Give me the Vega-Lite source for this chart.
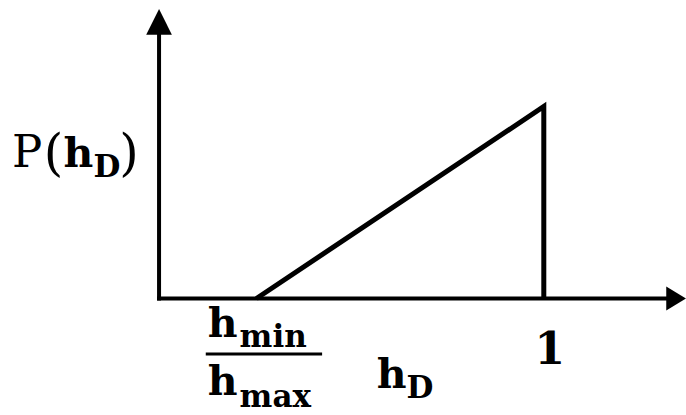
{
  "$schema": "https://vega.github.io/schema/vega-lite/v6.json",
  "width": 686,
  "height": 415,
  "autosize": {"type": "fit", "contains": "padding"},
  "padding": 0,
  "background": "white",
  "config": {"view": {"stroke": null}},
  "datasets": {
    "axes": [
      {"x": 0, "y": 0, "x2": 0, "y2": 1.42},
      {"x": 0, "y": 0, "x2": 1.33, "y2": 0}
    ],
    "curve": [
      {"i": 0, "x": 0.253, "y": 0},
      {"i": 1, "x": 1, "y": 1},
      {"i": 2, "x": 1, "y": 0}
    ],
    "upArrow": [{"x": 0, "y": 1.508}],
    "rightArrow": [{"x": 1.3695, "y": 0}],
    "bar": [{"x": 0.1214, "y": -0.2891, "x2": 0.4238, "y2": -0.2891}],
    "pLetter": [{"x": -0.3824, "y": 0.6849, "t": "P"}],
    "parens": [
      {"x": -0.2997, "y": 0.6693, "t": "("},
      {"x": -0.1034, "y": 0.6693, "t": ")"}
    ],
    "main": [
      {"x": -0.2481, "y": 0.6849, "t": "h"},
      {"x": 0.1266, "y": -0.2005, "t": "h"},
      {"x": 0.1266, "y": -0.5026, "t": "h"},
      {"x": 0.5659, "y": -0.4661, "t": "h"}
    ],
    "sub": [
      {"x": -0.1705, "y": 0.6328, "t": "D"},
      {"x": 0.2093, "y": -0.2526, "t": "min"},
      {"x": 0.2093, "y": -0.5651, "t": "max"},
      {"x": 0.6434, "y": -0.5182, "t": "D"}
    ],
    "one": [{"x": 1.0155, "y": -0.3411, "t": "1"}]
  },
  "encoding": {
    "x": {"field": "x", "type": "quantitative", "scale": {"domain": [-0.4134, 1.3592], "nice": false, "zero": false}, "axis": null},
    "y": {"field": "y", "type": "quantitative", "scale": {"domain": [-0.6068, 1.5547], "nice": false, "zero": false}, "axis": null}
  },
  "layer": [
    {
      "data": {"name": "axes"},
      "mark": {"type": "rule", "color": "black", "strokeWidth": 4, "strokeCap": "square"},
      "encoding": {"x2": {"field": "x2"}, "y2": {"field": "y2"}}
    },
    {
      "data": {"name": "bar"},
      "mark": {"type": "rule", "color": "black", "strokeWidth": 3},
      "encoding": {"x2": {"field": "x2"}, "y2": {"field": "y2"}}
    },
    {
      "data": {"name": "curve"},
      "mark": {"type": "line", "color": "black", "strokeWidth": 5, "strokeJoin": "miter"},
      "encoding": {"order": {"field": "i", "type": "quantitative"}}
    },
    {
      "data": {"name": "upArrow"},
      "mark": {"type": "point", "shape": "M0,0L1,2L-1,2Z", "filled": true, "color": "black", "opacity": 1, "size": 660}
    },
    {
      "data": {"name": "rightArrow"},
      "mark": {"type": "point", "shape": "M0,0L-1.8,-1.1L-1.8,1.1Z", "filled": true, "color": "black", "opacity": 1, "size": 480}
    },
    {
      "data": {"name": "pLetter"},
      "mark": {"type": "text", "font": "DejaVu Serif", "fontSize": 45, "align": "left", "baseline": "alphabetic", "color": "black"},
      "encoding": {"text": {"field": "t"}}
    },
    {
      "data": {"name": "parens"},
      "mark": {"type": "text", "font": "DejaVu Serif", "fontSize": 50, "align": "left", "baseline": "alphabetic", "color": "black"},
      "encoding": {"text": {"field": "t"}}
    },
    {
      "data": {"name": "main"},
      "mark": {"type": "text", "font": "DejaVu Serif", "fontWeight": "bold", "fontSize": 41, "align": "left", "baseline": "alphabetic", "color": "black"},
      "encoding": {"text": {"field": "t"}}
    },
    {
      "data": {"name": "sub"},
      "mark": {"type": "text", "font": "DejaVu Serif", "fontWeight": "bold", "fontSize": 31, "align": "left", "baseline": "alphabetic", "color": "black"},
      "encoding": {"text": {"field": "t"}}
    },
    {
      "data": {"name": "one"},
      "mark": {"type": "text", "font": "DejaVu Serif", "fontWeight": "bold", "fontSize": 44, "align": "center", "baseline": "alphabetic", "color": "black"},
      "encoding": {"text": {"field": "t"}}
    }
  ]
}
